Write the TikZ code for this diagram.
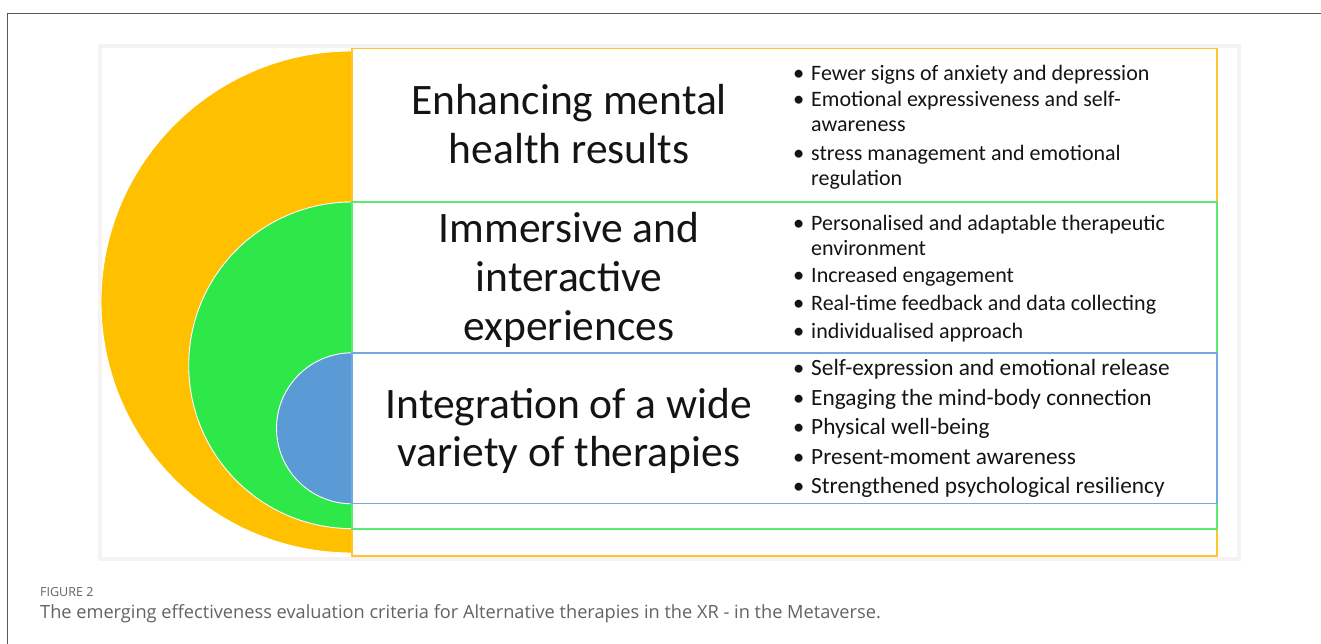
\documentclass[tikz,border=0pt]{standalone}
\usepackage{fontspec}
\setmainfont{Carlito}
\newfontfamily\capfont{Open Sans}

\definecolor{ringorange}{HTML}{FFC000}
\definecolor{ringgreen}{HTML}{2EE84A}
\definecolor{ringblue}{HTML}{5B9BD5}
\definecolor{orangeline}{HTML}{FFC52A}
\definecolor{greenline}{HTML}{5CEA72}
\definecolor{blueline}{HTML}{72A9DE}
\definecolor{panelgrey}{HTML}{F7F2F2}
\definecolor{framegrey}{HTML}{5A5A5A}
\definecolor{capgrey}{HTML}{626262}

% first line on the node's baseline
\newcommand{\lefttab}[1]{\begin{tabular}[t]{@{}l@{}}#1\end{tabular}}
\newcommand{\midtab}[1]{\begin{tabular}[t]{@{}c@{}}#1\end{tabular}}

\begin{document}
\begin{tikzpicture}[x=1pt, y=-1pt,
    halfdisc/.style={draw=white, line width=0.9pt},
    band/.style={line width=1.6pt},
    title/.style={anchor=base, inner sep=0pt,
        font=\fontsize{43.5}{48.5}\selectfont, text=black!92},
    point/.style={anchor=base west, inner sep=0pt,
        font=\fontsize{22}{25}\selectfont, text=black!92},
    bigpoint/.style={point, font=\fontsize{23.3}{25.5}\selectfont},
    dot/.style={anchor=base west, inner sep=0pt,
        font=\fontsize{22.5}{25}\selectfont, text=black!92}]
    \useasboundingbox (0,0) rectangle (1321,644);

    % page frame and figure panel
    \draw[framegrey, line width=1.3pt] (7.5,644) -- (7.5,13.5) -- (1321,13.5);
    \draw[panelgrey, line width=4pt] (100,46) rectangle (1238.5,558.5);

    % half discs, largest first
    \filldraw[halfdisc, fill=ringorange] (352,553) arc[start angle=90, end angle=270, radius=251] -- cycle;
    \filldraw[halfdisc, fill=ringgreen] (352,528.6) arc[start angle=90, end angle=270, radius=163.3] -- cycle;
    \filldraw[halfdisc, fill=ringblue] (352,503.8) arc[start angle=90, end angle=270, radius=75.5] -- cycle;

    % boxes
    \draw[band, draw=orangeline] (352,48.7) rectangle (1217,556);
    \draw[band, draw=greenline] (352,202) rectangle (1217,529);
    \draw[band, draw=blueline] (352,353) rectangle (1217,503.5);

    % headings
    \node[title] (health) at (569,115) {\midtab{Enhancing mental\\health results}};
    \node[title] (immersive) at (569,243) {\midtab{Immersive and\\interactive\\experiences}};
    \node[title] (therapies) at (569,418) {\midtab{Integration of a wide\\variety of therapies}};

    % points
    \foreach \y/\txt [count=\i] in {80.7/{Fewer signs of anxiety and depression},
        107/{Emotional expressiveness and self-\\awareness},
        160.5/{stress management and emotional\\regulation}}
    {
        \node[dot] (hd\i) at (793,\y) {\textbullet};
        \node[point] (hp\i) at (811,\y) {\lefttab{\txt}};
    }
    \foreach \y/\txt [count=\i] in {230.5/{Personalised and adaptable therapeutic\\environment},
        282/{Increased engagement},
        310.5/{Real-time feedback and data collecting},
        338/{individualised approach}}
    {
        \node[dot] (id\i) at (793,\y) {\textbullet};
        \node[point] (ip\i) at (811,\y) {\lefttab{\txt}};
    }
    \foreach \y/\txt [count=\i] in {375/{Self-expression and emotional release},
        405/{Engaging the mind-body connection},
        434.5/{Physical well-being},
        464/{Present-moment awareness},
        493.5/{Strengthened psychological resiliency}}
    {
        \node[dot] (td\i) at (793,\y) {\textbullet};
        \node[bigpoint] (tp\i) at (811,\y) {\lefttab{\txt}};
    }

    % caption
    \node[anchor=base west, inner sep=0pt, text=capgrey, font=\capfont\fontsize{12.5}{15}\selectfont] (fignum) at (40,596) {FIGURE 2};
    \node[anchor=base west, inner sep=0pt, text=capgrey, font=\capfont\fontsize{18.2}{21}\selectfont] (caption) at (40,618) {The emerging effectiveness evaluation criteria for Alternative therapies in the XR - in the Metaverse.};
\end{tikzpicture}
\end{document}
